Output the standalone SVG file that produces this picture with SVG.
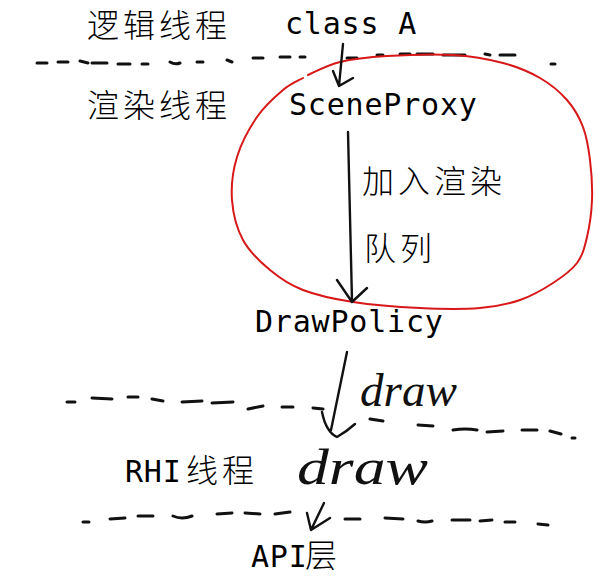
<svg xmlns="http://www.w3.org/2000/svg" width="598" height="582" viewBox="0 0 598 582">
<style>
.mono{font-family:"DejaVu Sans Mono","Liberation Mono",monospace;font-size:30px;fill:#000;letter-spacing:0.8px}
.cjk{font-family:"Noto Sans CJK SC","Noto Sans CJK JP",sans-serif;font-size:32px;font-weight:300;fill:#000;letter-spacing:4px}
.hand{font-family:"Liberation Serif","DejaVu Serif",serif;font-style:italic;fill:#111}
.dash{fill:none;stroke:#111;stroke-width:3;stroke-linecap:round}
.arr{fill:none;stroke:#111;stroke-width:2.4;stroke-linecap:round;stroke-linejoin:round}
.loop{fill:none;stroke:#d81818;stroke-width:2;stroke-linecap:round}
</style>
<rect width="598" height="582" fill="#fff"/>

<g id="separators">
<path class="dash" d="M37 63L47 63M58 62L68 62M80 61L88 63M92 63L107 63M118 64L130 64M142 64L148 64M170 62Q175 65 180 63M197 62L203 62M227 60L232 62M253 58L263 58M280 57L290 57M300 57L305 57M347 58L357 58M377 55L383 55M400 54L410 54M417 54L433 54M443 55L465 55M485 54L490 55M500 55L515 55M551 64L555 64"/>
<path class="dash" d="M67 402L75 402M92 398L112 399M128 397L138 397M152 399L163 401M182 402L202 401M212 403L233 402M248 409L263 406M282 407L293 407M313 408L323 409M370 419L383 421M418 425L433 426M453 430Q465 428 477 430M487 432L503 431M522 430L537 430M550 431L561 434M572 438L575 438"/>
<path class="dash" d="M83 522L89 522M110 519L125 518M138 516L153 516M173 516Q182 520 192 516M217 514L232 513M245 513L260 514M275 514L290 512M345 519L360 519M385 518L403 519M418 521Q425 523 432 521M452 520L470 520M480 521L492 520M505 522L515 522M538 524L548 525"/>
</g>

<g id="layer-labels">
<text class="cjk" x="87" y="37">逻辑线程</text>
<text class="cjk" x="87" y="117">渲染线程</text>
</g>

<g id="loop">
<path class="loop" d="M308 75C313.3 72.8 326.8 65.2 340 62C353.2 58.8 368.2 57.2 387 56C405.8 54.8 433.7 53.8 453 55C472.3 56.2 488.5 59.2 503 63C517.5 66.8 529.3 71.8 540 78C550.7 84.2 559.8 91.8 567 100C574.2 108.2 579.2 117 583 127C586.8 137 588.5 147.8 590 160C591.5 172.2 592.5 187.2 592 200C591.5 212.8 589.5 226.5 587 237C584.5 247.5 582.7 255.3 577 263C571.3 270.7 562.5 276.8 553 283C543.5 289.2 532.2 295.8 520 300C507.8 304.2 496.7 306.7 480 308C463.3 309.3 441.2 309 420 308C398.8 307 372.5 305 353 302C333.5 299 316.8 295.3 303 290C289.2 284.7 280 278.3 270 270C260 261.7 249.3 251.7 243 240C236.7 228.3 233 213.8 232 200C231 186.2 232.8 170.8 237 157C241.2 143.2 249.3 128.2 257 117C264.7 105.8 275.3 96.5 283 90C290.7 83.5 299.7 80 303 78"/>
</g>

<g id="connectors">
<path class="arr" d="M343 44L339 86M333 71L339 86L353 78"/>
<path class="arr" d="M348 132L352 301M337 280L352 302L367 288"/>
<path class="arr" d="M347 352L331 430M322 412Q326 432 337 437Q346 432 355 424"/>
<path class="arr" d="M324 503L311 530M307 513L311 530L330 518"/>
<text class="cjk" x="362" y="193">加入渲染</text>
<text class="cjk" x="364" y="260">队列</text>
<text class="hand" x="360" y="406" font-size="46" textLength="97" lengthAdjust="spacingAndGlyphs">draw</text>
</g>

<g id="node-classA"><text class="mono" x="285" y="34">class A</text></g>
<g id="node-sceneproxy"><text class="mono" x="289" y="115">SceneProxy</text></g>
<g id="node-drawpolicy"><text class="mono" x="255" y="332">DrawPolicy</text></g>
<g id="node-rhi">
<text x="125" y="482"><tspan class="mono">RHI</tspan><tspan class="cjk" x="186">线程</tspan></text>
<text class="hand" x="297" y="484" font-size="50" textLength="131" lengthAdjust="spacingAndGlyphs">draw</text>
</g>
<g id="node-api">
<text x="251" y="567"><tspan class="mono">API</tspan><tspan class="cjk" x="305">层</tspan></text>
</g>
</svg>
